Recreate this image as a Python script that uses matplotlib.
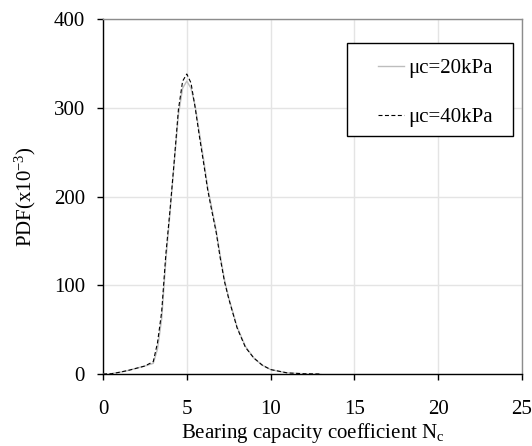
import matplotlib
matplotlib.use("Agg")
import matplotlib.pyplot as plt
from matplotlib.patches import Rectangle

plt.rcParams['font.family'] = ['Liberation Serif', 'DejaVu Serif']
plt.rcParams['mathtext.default'] = 'regular'

nc = [0, 0.5, 1, 1.5, 2, 2.5, 3, 3.25, 3.5, 3.75, 4, 4.25, 4.5, 4.75, 5,
      5.25, 5.5, 5.75, 6, 6.25, 6.5, 6.75, 7, 7.25, 7.5, 8, 8.5, 9, 9.5,
      10, 11, 12, 13]
pdf_20 = [0, 0.3, 2, 4, 6.5, 9, 12, 28, 62, 128, 182, 238, 292, 322, 330,
          322, 302, 272, 242, 210, 186, 162, 133, 106, 86, 53, 31, 18, 10,
          5, 1.2, 0.3, 0]
pdf_40 = [0, 0.3, 2, 4, 6.5, 9, 14, 35, 70, 135, 185, 240, 298, 330, 338,
          328, 300, 268, 238, 207, 183, 160, 130, 104, 85, 52, 30, 18, 10,
          5, 1.2, 0.3, 0]
labels = ['\u03bcc=20kPa', '\u03bcc=40kPa']

xticks = [0, 5, 10, 15, 20, 25]
yticks = [0, 100, 200, 300, 400]

FS = 15

fig = plt.figure(figsize=(5.32, 4.46), dpi=100)
ax = fig.add_axes([103/532, 1-374/446, (522-103)/532, (374-19)/446])

ax.plot(nc, pdf_20, color='#bdbdbd', lw=1.0, label=labels[0], zorder=3)
ax.plot(nc, pdf_40, color='black', lw=0.8, linestyle=(0, (3.6, 2.2)),
        label=labels[1], zorder=4)

ax.set_xlim(0, 25)
ax.set_ylim(0, 400)
ax.set_xticks(xticks)
ax.set_yticks(yticks)
ax.grid(True, color='#e4e4e4', lw=1.0, zorder=0)
ax.set_axisbelow(True)

for s in ['top', 'right']:
    ax.spines[s].set_color('#8c8c8c')
    ax.spines[s].set_linewidth(1.0)
for s in ['left', 'bottom']:
    ax.spines[s].set_color('black')
    ax.spines[s].set_linewidth(1.0)

ax.tick_params(axis='both', direction='out', length=4.5, width=1,
               labelsize=FS, colors='black')
ax.tick_params(axis='x', pad=14.5)
ax.tick_params(axis='y', pad=8.5)

ax.set_xlabel('Bearing capacity coefficient N$_c$', fontsize=FS, labelpad=1.5)
ax.set_ylabel('PDF(x10$^{-3}$)', fontsize=FS, labelpad=11)

# legend frame
ax.add_patch(Rectangle((0.583, 0.6704), 0.3962, 0.2611, transform=ax.transAxes,
                       facecolor='white', edgecolor='black', lw=1.0, zorder=5))
leg = ax.legend(loc='center left', bbox_to_anchor=(0.6556, 0.7924),
                fontsize=FS, frameon=False, borderpad=0,
                labelspacing=1.4, handlelength=1.25, handletextpad=0.22,
                borderaxespad=0)
leg.set_zorder(6)

fig.savefig('out.png', dpi=100)
